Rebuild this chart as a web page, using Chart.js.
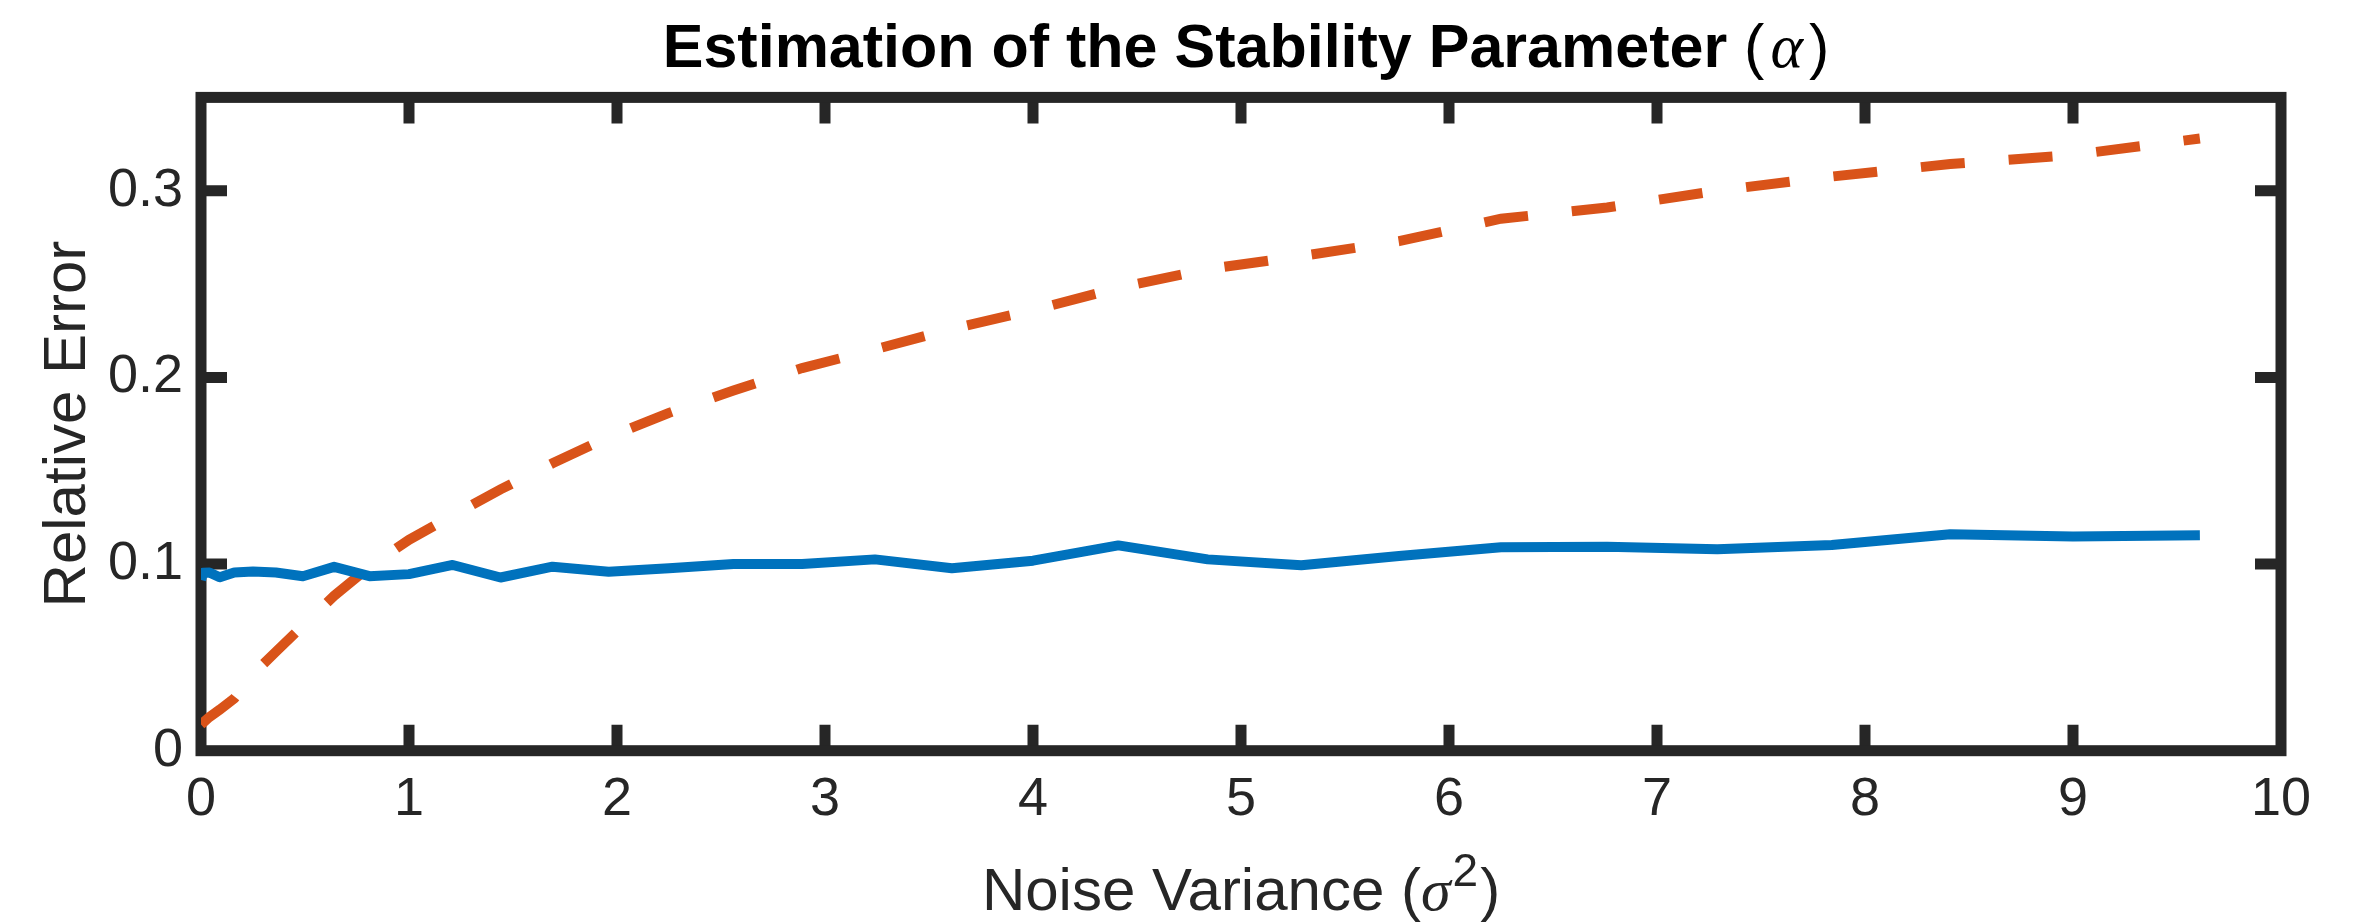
<!DOCTYPE html>
<html>
<head>
<meta charset="utf-8">
<script src="https://cdn.jsdelivr.net/npm/chart.js@4/dist/chart.umd.min.js"></script>
<style>
  html, body { margin: 0; padding: 0; background: #fff; }
  canvas { display: block; }
</style>
</head>
<body>
<canvas id="grafico" width="2361" height="924"></canvas>
<script>
// dados
const noiseVariance = [0, 0.01, 0.04, 0.09, 0.16, 0.25, 0.36, 0.49, 0.64, 0.81, 1, 1.21, 1.44, 1.69, 1.96, 2.25,
  2.56, 2.89, 3.24, 3.61, 4, 4.41, 4.84, 5.29, 5.76, 6.25, 6.76, 7.29, 7.84, 8.41, 9, 9.61];
const errorSolid = [0.0915, 0.0954, 0.0955, 0.0929, 0.0955, 0.096, 0.0955, 0.0935, 0.0985, 0.0935, 0.0946, 0.0995,
  0.0928, 0.0986, 0.0959, 0.0977, 0.100, 0.100, 0.1025, 0.0977, 0.1018, 0.110, 0.1025, 0.0993, 0.1043, 0.109,
  0.1093, 0.1079, 0.1102, 0.116, 0.1147, 0.1154];
const errorDashed = [0.014, 0.015, 0.018, 0.022, 0.028, 0.041, 0.053, 0.067, 0.083, 0.0985, 0.113, 0.126, 0.140,
  0.154, 0.168, 0.181, 0.193, 0.205, 0.215, 0.226, 0.236, 0.248, 0.258, 0.265, 0.273, 0.285, 0.291, 0.300,
  0.3076, 0.3143, 0.3192, 0.328];
const xTicks = [0, 1, 2, 3, 4, 5, 6, 7, 8, 9, 10];
const yTicks = [0, 0.1, 0.2, 0.3];

const axisColor = '#262626';
const fontFamily = '"Liberation Sans", Arial, Helvetica, sans-serif';

function toPoints(xs, ys){
  return xs.map(function(x, i){ return {x: x, y: ys[i]}; });
}

// escreve um texto com partes de estilos diferentes, centrado em cx
function drawParts(ctx, parts, cx, baseY){
  var total = 0;
  parts.forEach(function(p){
    ctx.font = p.font;
    p.w = ctx.measureText(p.text).width + (p.pre || 0) + (p.post || 0);
    total += p.w;
  });
  var x = cx - total / 2;
  ctx.textAlign = 'left';
  ctx.textBaseline = 'alphabetic';
  parts.forEach(function(p){
    ctx.font = p.font;
    ctx.fillText(p.text, x + (p.pre || 0), baseY + (p.dy || 0));
    x += p.w;
  });
}

// caixa dos eixos com ticks para dentro (estilo matlab)
const axesBox = {
  id: 'axesBox',
  beforeDatasetsDraw(chart){
    const ctx = chart.ctx;
    const a = chart.chartArea;
    const sx = chart.scales.x, sy = chart.scales.y;
    const len = 26;
    ctx.save();
    ctx.strokeStyle = axisColor;
    ctx.lineWidth = 11;
    ctx.lineCap = 'butt';
    ctx.beginPath();
    xTicks.forEach(function(v){
      if (v === sx.min || v === sx.max) return;
      const px = sx.getPixelForValue(v);
      ctx.moveTo(px, a.bottom); ctx.lineTo(px, a.bottom - len);
      ctx.moveTo(px, a.top); ctx.lineTo(px, a.top + len);
    });
    yTicks.forEach(function(v){
      if (v === sy.min || v === sy.max) return;
      const py = sy.getPixelForValue(v);
      ctx.moveTo(a.left, py); ctx.lineTo(a.left + len, py);
      ctx.moveTo(a.right, py); ctx.lineTo(a.right - len, py);
    });
    ctx.stroke();
    ctx.lineJoin = 'miter';
    ctx.strokeRect(a.left, a.top, a.right - a.left, a.bottom - a.top);
    ctx.restore();
  }
};

// titulo e rotulo do eixo x (com letras gregas e expoente)
const richLabels = {
  id: 'richLabels',
  afterDraw(chart){
    const ctx = chart.ctx;
    const a = chart.chartArea;
    ctx.save();
    ctx.fillStyle = '#000';
    drawParts(ctx, [
      {text: 'Estimation of the Stability Parameter ', font: 'bold 61px ' + fontFamily},
      {text: '(', font: '61px ' + fontFamily},
      {text: '\u03B1', font: 'italic 62px "Liberation Serif", serif', pre: 6, post: 6},
      {text: ')', font: '61px ' + fontFamily}
    ], (a.left + a.right) / 2 + 5, 67);
    ctx.fillStyle = axisColor;
    drawParts(ctx, [
      {text: 'Noise Variance (', font: '60px ' + fontFamily},
      {text: '\u03C3', font: 'italic 60px "Liberation Serif", serif', post: 2},
      {text: '2', font: '46px ' + fontFamily, dy: -24},
      {text: ')', font: '60px ' + fontFamily, pre: 2}
    ], (a.left + a.right) / 2, 910);
    ctx.restore();
  }
};

new Chart(document.getElementById('grafico').getContext('2d'), {
  type: 'line',
  data: {
    datasets: [{
      label: 'solid',
      data: toPoints(noiseVariance, errorSolid),
      borderColor: '#0072BD',
      borderWidth: 10,
      borderJoinStyle: 'round',
      pointRadius: 0,
      tension: 0,
      fill: false
    }, {
      label: 'dashed',
      data: toPoints(noiseVariance, errorDashed),
      borderColor: '#D95319',
      borderWidth: 10,
      borderDash: [44, 44],
      borderCapStyle: 'butt',
      pointRadius: 0,
      tension: 0,
      fill: false
    }]
  },
  options: {
    responsive: false,
    animation: false,
    devicePixelRatio: 1,
    layout: { padding: { left: 0, right: 80, top: 97.4, bottom: 0 } },
    plugins: {
      legend: { display: false },
      title: { display: false },
      tooltip: { enabled: false }
    },
    scales: {
      x: {
        type: 'linear',
        position: 'bottom',
        min: 0,
        max: 10,
        afterBuildTicks: function(s){ s.ticks = xTicks.map(function(v){ return {value: v}; }); },
        afterFit: function(s){ s.height = 924 - 750.7; },
        grid: { display: false, drawTicks: false },
        border: { display: false },
        ticks: {
          color: axisColor,
          font: { family: fontFamily, size: 54 },
          padding: 17,
          maxRotation: 0,
          autoSkip: false,
          callback: function(v){ return String(v); }
        }
      },
      y: {
        type: 'linear',
        position: 'left',
        min: 0,
        max: 0.35,
        afterBuildTicks: function(s){ s.ticks = yTicks.map(function(v){ return {value: v}; }); },
        afterFit: function(s){ s.width = 201; },
        grid: { display: false, drawTicks: false },
        border: { display: false },
        ticks: {
          color: axisColor,
          font: { family: fontFamily, size: 54 },
          padding: 18,
          callback: function(v){ return String(v); }
        },
        title: {
          display: true,
          text: 'Relative Error',
          color: axisColor,
          font: { family: fontFamily, size: 60 },
          padding: { top: 32, bottom: 0 }
        }
      }
    }
  },
  plugins: [axesBox, richLabels]
});
</script>
</body>
</html>
